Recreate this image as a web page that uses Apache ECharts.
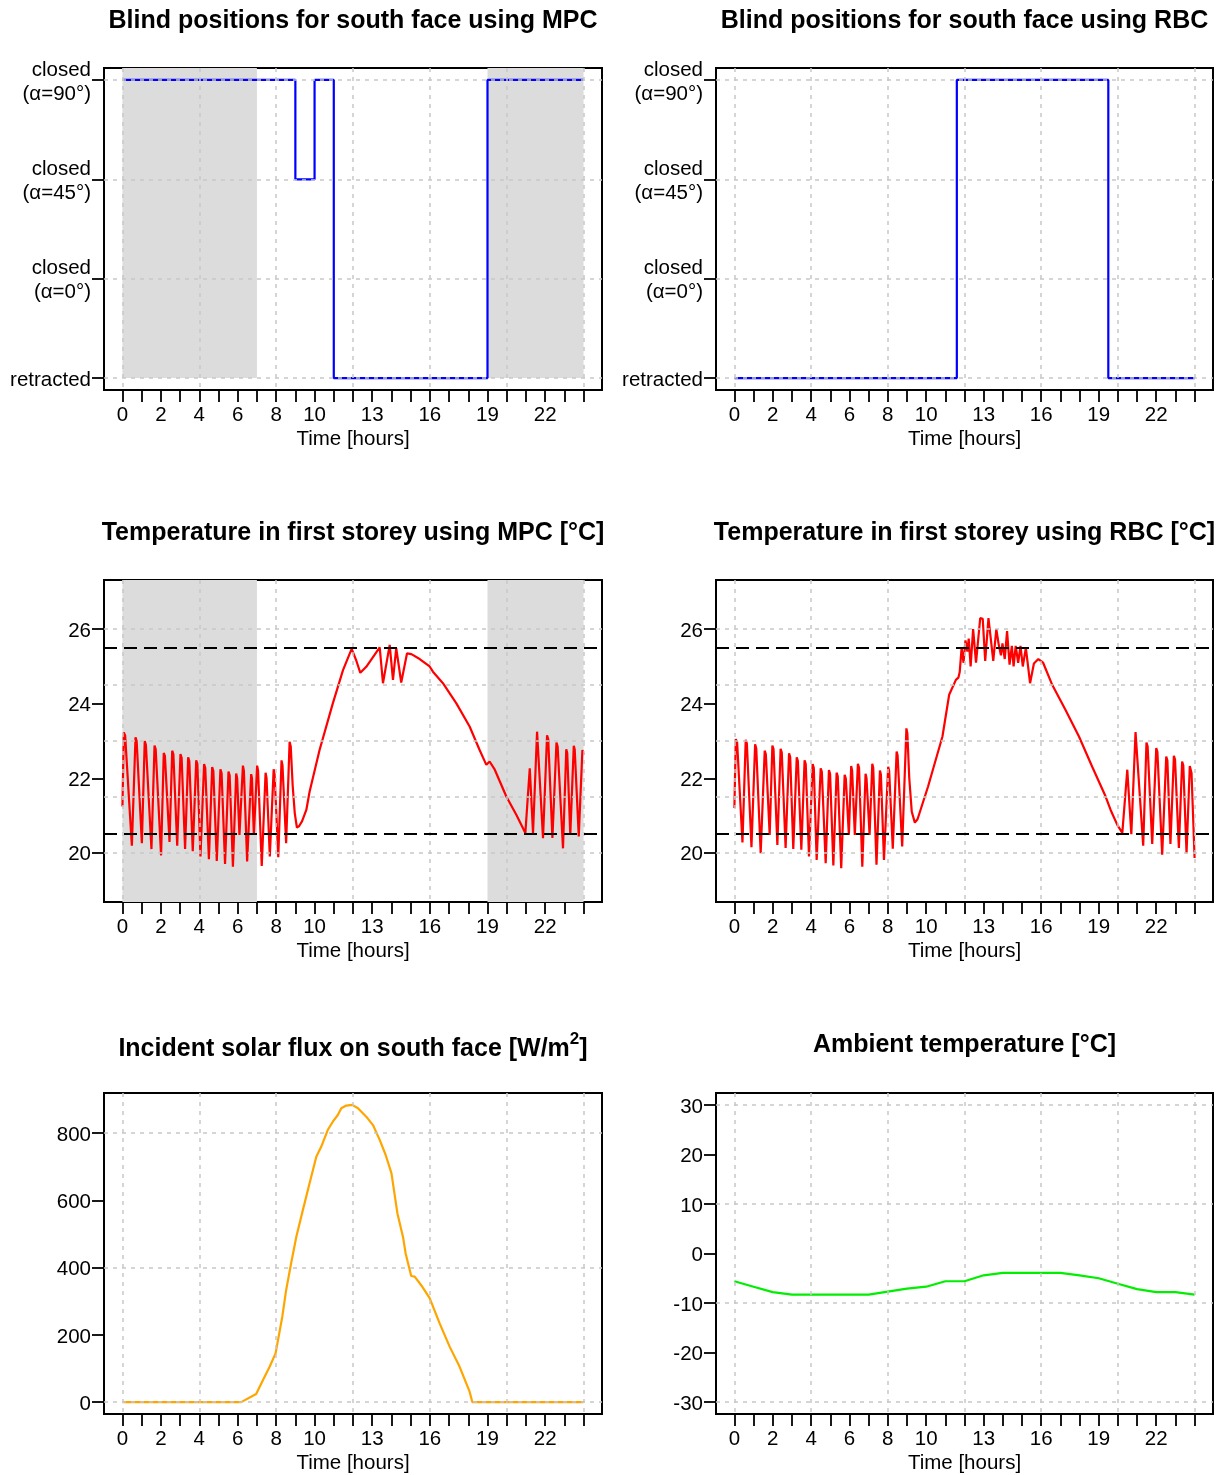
<!DOCTYPE html>
<html><head><meta charset="utf-8">
<script src="https://cdn.jsdelivr.net/npm/echarts@6/dist/echarts.min.js"></script>
<style>html,body{margin:0;padding:0;background:#fff}#c{width:1230px;height:1475px}</style>
</head><body><div id="c"></div>
<script>
// ---------- axis tick / label definitions ----------
const hourTicks = [0,1,2,3,4,5,6,7,8,9,10,11,12,13,14,15,16,17,18,19,20,21,22,23,24];
const hourLabels = [0,2,4,6,8,10,13,16,19,22];
const hourGrid = [0,4,8,12,16,20,24];
const blindLevelLabels = ['retracted', 'closed\n(\u03b1=0\u00b0)', 'closed\n(\u03b1=45\u00b0)', 'closed\n(\u03b1=90\u00b0)'];
const blindTicks = [0,1,2,3];
const tempTicks = [20,22,24,26];
const tempGrid = [20,21.5,23,24.5,26];
const solarTicks = [0,200,400,600,800];
const solarGrid = [0,400,800];
const ambTicks = [-30,-20,-10,0,10,20,30];
const ambGrid = [-30,-10,10,30];

// ---------- data ----------
// blind level: 0 = retracted, 1 = closed 0deg, 2 = closed 45deg, 3 = closed 90deg
const mpcBlindTimes = [0, 9, 10, 11, 19, 24];
const mpcBlindLevels = [3, 2, 3, 0, 3, 3];
const rbcBlindTimes = [0, 11.6, 19.5, 24];
const rbcBlindLevels = [0, 3, 0, 0];

const mpcShade = [[0, 7], [19, 24]];
const comfortBounds = [20.5, 25.5];

const mpcTempTimes = [0.00,0.07,0.14,0.49,0.68,0.74,1.01,1.16,1.22,1.51,1.67,1.73,2.01,2.15,2.21,2.45,2.59,2.65,2.85,3.02,3.08,3.26,3.42,3.48,3.66,3.84,3.90,4.06,4.25,4.31,4.50,4.67,4.73,4.91,5.10,5.16,5.34,5.52,5.58,5.75,5.92,5.97,6.09,6.27,6.32,6.49,6.70,6.74,6.84,7.01,7.06,7.25,7.45,7.50,7.67,7.87,7.92,8.11,8.28,8.33,8.52,8.70,8.76,8.86,8.97,9.08,9.20,9.35,9.57,9.74,10.26,10.95,11.48,11.93,12.17,12.38,12.69,13.39,13.56,13.91,14.08,14.25,14.51,14.81,15.04,15.47,15.99,16.16,16.68,17.38,18.07,18.59,18.94,19.11,19.38,19.98,20.50,20.97,21.20,21.37,21.58,21.67,21.89,22.10,22.16,22.38,22.59,22.65,22.93,23.10,23.15,23.31,23.49,23.54,23.75,23.94,24.00];
const mpcTempValues = [21.24,23.23,23.15,20.19,23.10,23.00,20.26,23.00,22.90,20.10,22.88,22.78,19.93,22.68,22.60,20.29,22.74,22.65,20.19,22.65,22.55,20.10,22.56,22.46,20.04,22.48,22.38,19.90,22.38,22.28,19.83,22.30,22.20,19.78,22.24,22.14,19.70,22.18,22.08,19.63,22.13,22.00,20.48,22.34,22.20,19.77,22.11,22.00,20.48,22.34,22.20,19.65,22.15,22.00,19.90,22.24,22.10,19.88,22.48,22.35,20.26,22.98,22.85,21.80,21.06,20.68,20.72,20.85,21.15,21.64,22.76,24.01,24.90,25.47,25.16,24.83,24.99,25.51,24.55,25.58,24.64,25.49,24.57,25.35,25.33,25.20,25.00,24.86,24.55,24.01,23.39,22.76,22.36,22.45,22.23,21.51,21.02,20.53,22.27,20.53,23.25,23.21,20.39,23.15,23.05,20.40,22.96,22.86,20.12,22.78,22.68,20.48,22.87,22.77,20.44,22.76,22.63];

const rbcTempTimes = [0.00,0.07,0.14,0.42,0.59,0.65,0.89,1.08,1.14,1.37,1.58,1.64,1.84,1.98,2.04,2.24,2.41,2.47,2.67,2.85,2.91,3.07,3.25,3.31,3.49,3.66,3.72,3.89,4.08,4.14,4.29,4.50,4.56,4.76,4.93,4.99,5.16,5.33,5.39,5.57,5.75,5.81,5.97,6.09,6.14,6.28,6.44,6.50,6.67,6.84,6.89,7.05,7.19,7.24,7.41,7.59,7.64,7.80,8.02,8.07,8.26,8.46,8.51,8.75,8.97,9.02,9.12,9.25,9.41,9.55,10.10,10.85,11.20,11.55,11.68,11.75,11.85,11.95,12.05,12.15,12.22,12.32,12.45,12.60,12.82,12.95,13.08,13.25,13.35,13.50,13.66,13.78,13.90,13.98,14.10,14.22,14.35,14.47,14.56,14.67,14.80,14.92,15.04,15.20,15.42,15.62,15.85,16.10,16.58,17.27,17.97,18.66,19.36,19.62,19.97,20.23,20.31,20.49,20.70,20.92,20.99,21.32,21.49,21.55,21.79,22.00,22.06,22.31,22.52,22.58,22.74,22.92,22.98,23.18,23.35,23.41,23.58,23.75,23.84,24.00];
const rbcTempValues = [21.20,23.05,22.98,20.28,23.03,22.93,20.15,22.91,22.80,19.99,22.74,22.64,20.48,22.88,22.78,20.21,22.79,22.69,20.13,22.67,22.57,20.10,22.56,22.46,20.08,22.48,22.38,19.90,22.38,22.28,19.81,22.27,22.17,19.72,22.22,22.12,19.66,22.15,22.05,19.59,22.09,21.99,20.48,22.33,22.20,20.48,22.39,22.28,19.63,22.12,22.00,20.48,22.39,22.28,19.68,22.21,22.10,19.81,22.31,22.20,20.11,22.72,22.62,20.17,23.34,23.20,22.00,21.10,20.81,20.90,21.78,23.12,24.24,24.64,24.70,24.85,25.50,25.10,25.70,25.40,25.75,25.00,26.00,25.10,26.30,26.28,25.15,26.30,26.25,25.15,26.00,25.60,25.30,25.62,25.20,25.95,25.05,25.55,25.00,25.55,25.10,25.55,25.00,25.50,24.55,25.08,25.20,25.10,24.50,23.83,23.12,22.31,21.51,21.15,20.75,20.53,20.50,22.23,20.50,23.24,23.21,20.19,22.96,22.86,20.24,22.81,22.71,19.95,22.58,22.48,20.24,22.60,22.50,20.13,22.45,22.35,19.99,22.33,22.14,19.86];

const solarTimes = [0,6.18,6.96,7.31,7.66,7.97,8.32,8.52,8.78,9.05,9.39,9.74,10.09,10.35,10.69,10.95,11.21,11.39,11.65,11.96,12.26,12.69,13.04,13.39,13.70,14.00,14.31,14.60,14.74,15.03,15.21,15.61,15.99,16.51,17.03,17.55,18.07,18.21,24];
const solarValues = [0,0,24,65,105,145,254,333,413,492,571,651,730,760,810,834,854,874,882,884,874,849,824,780,735,681,562,492,442,375,373,343,309,234,165,105,31,0,0];

const ambTimes = [0,1,2,3,4,5,6,7,8,9,10,11,12,13,14,15,16,17,18,19,20,21,22,23,24];
const ambValues = [-5.6,-6.7,-7.8,-8.3,-8.3,-8.3,-8.3,-8.3,-7.7,-7.1,-6.7,-5.6,-5.6,-4.4,-3.9,-3.9,-3.9,-3.9,-4.4,-5.0,-6.1,-7.2,-7.8,-7.8,-8.3];

// ---------- layout ----------
const FONT = '"Liberation Sans", Arial, Helvetica, sans-serif';
const zip = (t, v) => t.map((x, i) => [x, v[i]]);

// titles: [main text, superscript, tail]
const panels = [
  {left:104, top:68, w:498, h:322, title:['Blind positions for south face using MPC'], ymin:-0.12, ymax:3.12, ticks:blindTicks, grid:blindTicks, fmt:v=>blindLevelLabels[Math.round(v)]},
  {left:716, top:68, w:497, h:322, title:['Blind positions for south face using RBC'], ymin:-0.12, ymax:3.12, ticks:blindTicks, grid:blindTicks, fmt:v=>blindLevelLabels[Math.round(v)]},
  {left:104, top:580, w:498, h:322, title:['Temperature in first storey using MPC [\u00b0C]'], ymin:18.68, ymax:27.32, ticks:tempTicks, grid:tempGrid, fmt:v=>String(v)},
  {left:716, top:580, w:497, h:322, title:['Temperature in first storey using RBC [\u00b0C]'], ymin:18.68, ymax:27.32, ticks:tempTicks, grid:tempGrid, fmt:v=>String(v)},
  {left:104, top:1093, w:498, h:321, title:['Incident solar flux on south face [W/m', '2', ']'], ymin:-35.4, ymax:919.4, ticks:solarTicks, grid:solarGrid, fmt:v=>String(v), titleY:1049},
  {left:716, top:1093, w:497, h:321, title:['Ambient temperature [\u00b0C]'], ymin:-32.4, ymax:32.4, ticks:ambTicks, grid:ambGrid, fmt:v=>String(v), titleY:1045}
];

const TITLE_FONT = 'bold 25px ' + FONT;
const SUP_FONT = 'bold 17px ' + FONT;
const measureCtx = document.createElement('canvas').getContext('2d');
const textWidth = (t, f) => { measureCtx.font = f; return measureCtx.measureText(t).width; };

// y label: rich text, shifted down ~2px like the reference
const yLabelFormatter = (fmt) => (v) => fmt(v).split('\n').map(l => '{f|' + l + '}').join('\n');

const grids = [], xAxes = [], yAxes = [], graphics = [];
const tickStyle = {show:true, inside:false, length:12, lineStyle:{color:'#000', width:1.8}};
const gridLineStyle = {color:'#c8c8c8', width:1.5, type:[4,5]};
const labelStyle = {color:'#000', fontSize:20.5, fontFamily:FONT};

panels.forEach((p, i) => {
  grids.push({left:p.left, top:p.top, width:p.w, height:p.h, show:true, borderColor:'#000', borderWidth:2, backgroundColor:'transparent', containLabel:false});
  xAxes.push({type:'value', gridIndex:i, min:-0.96, max:24.96, position:'bottom',
    axisLine:{show:false, onZero:false}, splitLine:{show:false},
    axisTick:Object.assign({customValues:hourTicks}, tickStyle),
    axisLabel:Object.assign({customValues:hourLabels, margin:15, formatter:v=>String(v)}, labelStyle)});
  xAxes.push({type:'value', gridIndex:i, min:-0.96, max:24.96, position:'bottom', z:3,
    axisLine:{show:false, onZero:false}, axisLabel:{show:false},
    axisTick:{show:false, customValues:hourGrid},
    splitLine:{show:true, lineStyle:gridLineStyle}});
  yAxes.push({type:'value', gridIndex:i, min:p.ymin, max:p.ymax, position:'left',
    axisLine:{show:false, onZero:false}, splitLine:{show:false},
    axisTick:Object.assign({customValues:p.ticks}, tickStyle),
    axisLabel:Object.assign({customValues:p.ticks, margin:13, formatter:yLabelFormatter(p.fmt), align:'right',
      rich:{
        f:{fontSize:20.5, fontFamily:FONT, color:'#000', lineHeight:24, padding:[4,0,0,0], align:'right'}
      }}, labelStyle)});
  yAxes.push({type:'value', gridIndex:i, min:p.ymin, max:p.ymax, position:'left', z:3,
    axisLine:{show:false, onZero:false}, axisLabel:{show:false},
    axisTick:{show:false, customValues:p.grid},
    splitLine:{show:true, lineStyle:gridLineStyle}});

  const cx = p.left + p.w / 2;
  const ty = p.titleY !== undefined ? p.titleY : p.top - 47;
  if (p.title.length === 1) {
    graphics.push({type:'text', silent:true, style:{text:p.title[0], x:cx, y:ty, textAlign:'center', align:'center', textVerticalAlign:'middle', verticalAlign:'middle', font:TITLE_FONT, fill:'#000'}});
  } else {
    const w1 = textWidth(p.title[0], TITLE_FONT), w2 = textWidth(p.title[1], SUP_FONT), w3 = textWidth(p.title[2], TITLE_FONT);
    const x0 = cx - (w1 + w2 + w3) / 2;
    graphics.push({type:'text', silent:true, style:{text:p.title[0], x:x0, y:ty, textAlign:'left', align:'left', textVerticalAlign:'middle', verticalAlign:'middle', font:TITLE_FONT, fill:'#000'}});
    graphics.push({type:'text', silent:true, style:{text:p.title[1], x:x0 + w1, y:ty - 10, textAlign:'left', align:'left', textVerticalAlign:'middle', verticalAlign:'middle', font:SUP_FONT, fill:'#000'}});
    graphics.push({type:'text', silent:true, style:{text:p.title[2], x:x0 + w1 + w2, y:ty, textAlign:'left', align:'left', textVerticalAlign:'middle', verticalAlign:'middle', font:TITLE_FONT, fill:'#000'}});
  }
  graphics.push({type:'text', silent:true, style:{text:'Time [hours]', x:cx, y:p.top + p.h + 49, textAlign:'center', align:'center', textVerticalAlign:'middle', verticalAlign:'middle', font:'20.5px ' + FONT, fill:'#000'}});
});

const shadeArea = (ytop) => ({silent:true, itemStyle:{color:'#dcdcdc'}, label:{show:false},
  data: mpcShade.map(s => ytop === undefined ? [{xAxis:s[0]}, {xAxis:s[1]}] : [{xAxis:s[0], yAxis:0}, {xAxis:s[1], yAxis:ytop}])});
const boundLines = {silent:true, symbol:'none', label:{show:false}, lineStyle:{color:'#000', width:2, type:[13,7]},
  data: comfortBounds.map(v => ({yAxis:v}))};

const lineSeries = (i, data, color, extra) => Object.assign({
  type:'line', xAxisIndex:2*i, yAxisIndex:2*i, data:data, showSymbol:false, symbol:'none',
  lineStyle:{color:color, width:2.2}, itemStyle:{color:color}, animation:false, z:2
}, extra || {});

const series = [
  lineSeries(0, zip(mpcBlindTimes, mpcBlindLevels), '#0000ff', {step:'end', markArea:shadeArea(3.12)}),
  lineSeries(1, zip(rbcBlindTimes, rbcBlindLevels), '#0000ff', {step:'end'}),
  lineSeries(2, zip(mpcTempTimes, mpcTempValues), '#ff0000', {markArea:shadeArea(), markLine:boundLines}),
  lineSeries(3, zip(rbcTempTimes, rbcTempValues), '#ff0000', {markLine:boundLines}),
  lineSeries(4, zip(solarTimes, solarValues), '#ffa500'),
  lineSeries(5, zip(ambTimes, ambValues), '#00ee00')
];

const chart = echarts.init(document.getElementById('c'), null, {renderer:'canvas'});
chart.setOption({
  animation:false,
  backgroundColor:'#ffffff',
  textStyle:{fontFamily:FONT},
  grid:grids, xAxis:xAxes, yAxis:yAxes, series:series, graphic:graphics
});
</script>
</body></html>
